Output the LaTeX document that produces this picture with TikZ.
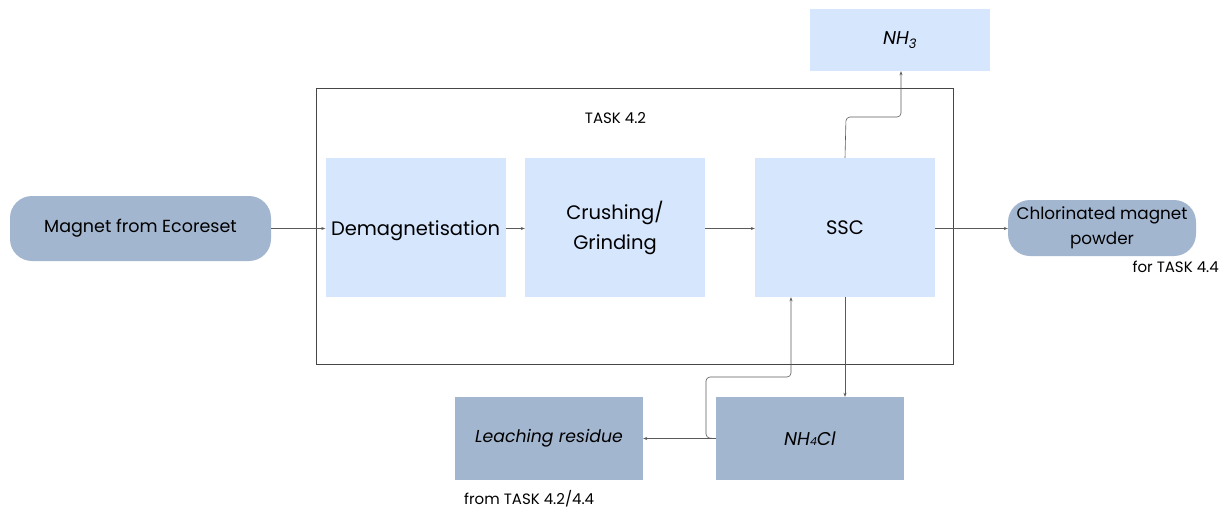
\documentclass[tikz,border=0pt]{standalone}
\usepackage{fontspec}
\setmainfont{Poppins}
\usetikzlibrary{arrows.meta}
\definecolor{lightbox}{RGB}{214,230,253}
\definecolor{darkbox}{RGB}{163,182,208}
\definecolor{framegray}{RGB}{70,70,70}
\definecolor{linegray}{RGB}{90,90,90}
\begin{document}
\begin{tikzpicture}[x=1pt,y=-1pt,
  procbox/.style={fill=lightbox, draw=none, minimum width=180pt, minimum height=139pt,
    align=center, font=\fontsize{19.5}{30}\selectfont, inner sep=0pt},
  extbox/.style={fill=darkbox, draw=none, rounded corners=22pt, align=center, inner sep=0pt},
  matbox/.style={fill=darkbox, draw=none, minimum width=188pt, minimum height=83pt,
    align=center, font=\fontsize{17.3}{20}\selectfont\itshape, inner sep=0pt},
  flow/.style={draw=linegray, line width=0.6pt, -{Stealth[length=4pt,width=3pt]}},
  note/.style={font=\fontsize{15}{18}\selectfont, inner sep=0pt}
]
\useasboundingbox (0,0) rectangle (1229,509);

% task frame
\node[draw=framegray, line width=0.8pt, minimum width=637pt, minimum height=276pt, inner sep=0pt]
  (frame) at (634.5,226) {};
\node[note, anchor=base] (tasklabel) at (615.5,123) {TASK 4.2};

% process steps (single-line text sits a little below the box centre)
\node[procbox, text height=20pt, text depth=5pt] (demag) at (415.5,227.5) {Demagnetisation};
\node[procbox] (crush) at (615,227.5) {Crushing/\\Grinding};
\node[procbox] (ssc) at (845,227.5) {SSC};

% gas outlet
\node[fill=lightbox, minimum width=180pt, minimum height=62pt, inner sep=0pt,
  font=\fontsize{18.5}{20}\selectfont\itshape] (nh3) at (900,40) {NH\textsubscript{3}};

% input and product
\node[extbox, minimum width=261pt, minimum height=65pt, font=\fontsize{17.5}{20}\selectfont]
  (magnet) at (140.5,228.5) {Magnet from Ecoreset};
\node[extbox, minimum width=188pt, minimum height=56pt, font=\fontsize{16.8}{25}\selectfont]
  (powder) at (1102,228) {Chlorinated magnet\\powder};
\node[note, anchor=base east] (fortask) at (1219,272) {for TASK 4.4};

% reagent loop
\node[matbox, font=\fontsize{18.5}{20}\selectfont\itshape] (nh4cl) at (810,438.5)
  {NH{\fontsize{11}{12}\selectfont 4}Cl};
\node[matbox] (residue) at (549,438.5) {Leaching residue};
\node[note, anchor=base west] (fromtask) at (464,504) {from TASK 4.2/4.4};

% connectors
\draw[flow] (magnet.east) -- (demag.west |- magnet.east);
\draw[flow] (demag.east |- magnet.east) -- (crush.west |- magnet.east);
\draw[flow] (crush.east |- magnet.east) -- (ssc.west |- magnet.east);
\draw[flow] (ssc.east |- magnet.east) -- (powder.west |- magnet.east);
\draw[flow, rounded corners=4pt] (ssc.north) -- (846,117) -- (901,117) -- (nh3.south -| 901,0);
\draw[flow] (ssc.south) -- (nh4cl.north -| ssc.south);
\draw[flow] (nh4cl.west) -- (residue.east);
\draw[flow, rounded corners=4pt] (nh4cl.west) -- (706,438) -- (706,377) -- (791,377) -- (ssc.south -| 791,0);
\end{tikzpicture}
\end{document}
